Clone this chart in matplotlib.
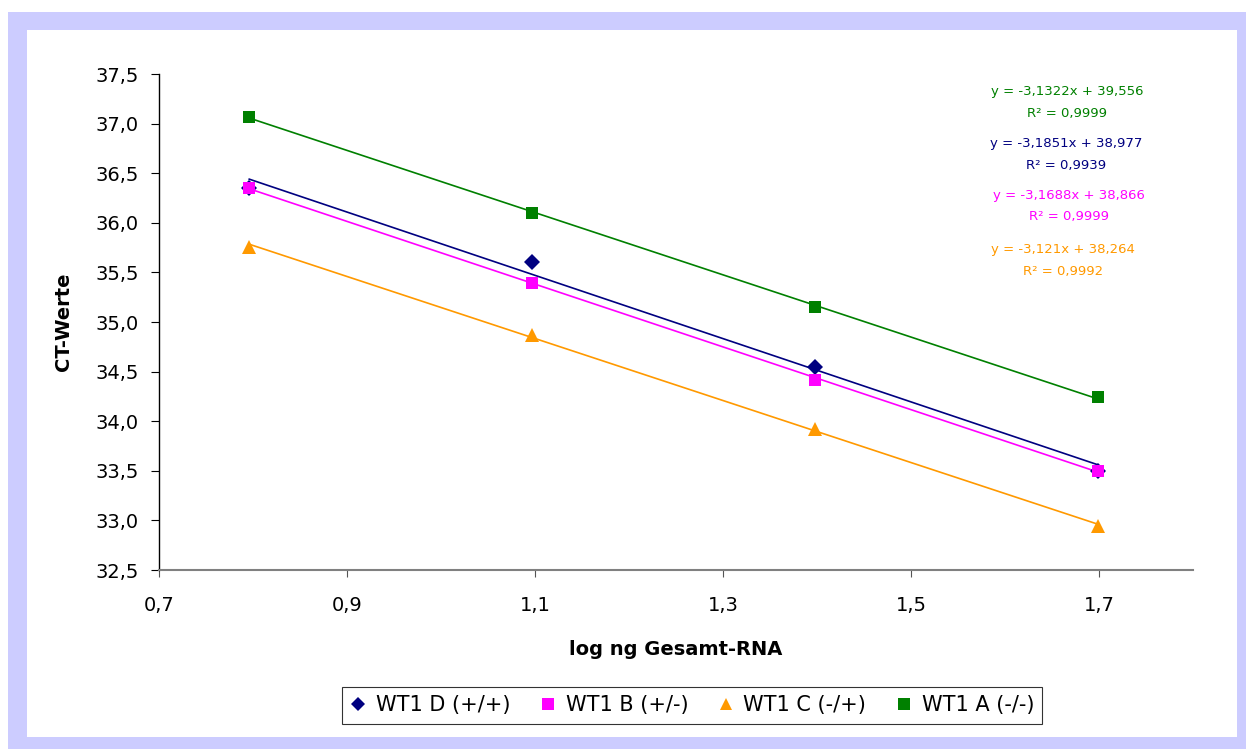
import numpy as np
import matplotlib
matplotlib.use("Agg")
import matplotlib.pyplot as plt
from matplotlib.patches import Rectangle
from matplotlib.ticker import FuncFormatter, MultipleLocator
from matplotlib.lines import Line2D

plt.rcParams['font.family'] = ['DejaVu Sans', 'Liberation Sans']

# Data
x_log = [0.796, 1.097, 1.398, 1.699]
series_names = ["WT1 D (+/+)", "WT1 B (+/-)", "WT1 C (-/+)", "WT1 A (-/-)"]
ct_D = [36.35, 35.60, 34.55, 33.50]
ct_B = [36.35, 35.39, 34.42, 33.50]
ct_C = [35.76, 34.87, 33.92, 32.94]
ct_A = [37.07, 36.10, 35.15, 34.24]
eq_texts = [
    ("y = -3,1851x + 38,977", "R² = 0,9939"),
    ("y = -3,1688x + 38,866", "R² = 0,9999"),
    ("y = -3,121x + 38,264", "R² = 0,9992"),
    ("y = -3,1322x + 39,556", "R² = 0,9999"),
]
x_ticks = [0.7, 0.9, 1.1, 1.3, 1.5, 1.7]

colors = ["#000080", "#FF00FF", "#FF9900", "#008000"]
markers = ["D", "s", "^", "s"]
msizes = [7.8, 9, 9.5, 8.5]
all_ct = [ct_D, ct_B, ct_C, ct_A]

W, H = 1246, 749
fig = plt.figure(figsize=(W / 100, H / 100), dpi=100)
fig.patch.set_facecolor("white")
# lavender frame
fig.patches.append(Rectangle((8 / W, 0), 1 - 8 / W, 1 - 12 / H, transform=fig.transFigure,
                             facecolor="#CCCCFF", edgecolor="none", zorder=-10))
fig.patches.append(Rectangle((27 / W, 12 / H), (1237 - 27) / W, (737 - 30) / H,
                             transform=fig.transFigure, facecolor="white", edgecolor="none", zorder=-9))

ax = fig.add_axes([159 / W, 1 - 570 / H, (1193 - 159) / W, (570 - 74) / H])
ax.set_facecolor("none")

xs = np.array(x_log)
order = [3, 0, 1, 2]
for i in order:
    ys = np.array(all_ct[i])
    k, d = np.polyfit(xs, ys, 1)
    ax.plot(xs, k * xs + d, color=colors[i], lw=1.2, zorder=2)
for i in [0, 1, 2, 3]:
    ax.plot(xs, all_ct[i], linestyle="none", marker=markers[i], color=colors[i],
            markersize=msizes[i], markeredgewidth=0, zorder=3, clip_on=False)

ax.set_xlim(0.7, 1.8)
ax.set_ylim(32.5, 37.5)
ax.set_xticks(x_ticks)
ax.yaxis.set_major_locator(MultipleLocator(0.5))
ax.xaxis.set_major_formatter(FuncFormatter(lambda v, p: f"{v:.1f}".replace(".", ",")))
ax.yaxis.set_major_formatter(FuncFormatter(lambda v, p: f"{v:.1f}".replace(".", ",")))

for s in ["top", "right"]:
    ax.spines[s].set_visible(False)
ax.spines["left"].set_color("black")
ax.spines["left"].set_linewidth(1.0)
ax.spines["bottom"].set_color("#808080")
ax.spines["bottom"].set_linewidth(1.5)
ax.tick_params(axis="y", direction="out", length=5.5, width=0.8, color="black", pad=9, labelsize=14)
ax.tick_params(axis="x", direction="out", length=5, width=0.8, color="#555555", pad=14, labelsize=14)

ax.set_xlabel("log ng Gesamt-RNA", fontsize=14, fontweight="bold", labelpad=18)
ax.set_ylabel("CT-Werte", fontsize=14, fontweight="bold", labelpad=16)

# equations
eq_pos = [(1066, 143, 166), (1069, 195, 217), (1063, 250, 272), (1067, 91, 114)]
for i, (xp, y1, y2) in enumerate(eq_pos):
    fig.text(xp / W, 1 - y1 / H, eq_texts[i][0], color=colors[i], fontsize=9.5,
             ha="center", va="center")
    fig.text(xp / W, 1 - y2 / H, eq_texts[i][1], color=colors[i], fontsize=9.5,
             ha="center", va="center")

handles = [Line2D([], [], linestyle="none", marker=markers[i], color=colors[i],
                  markersize=msizes[i] * 0.95, markeredgewidth=0) for i in range(4)]
leg = fig.legend(handles, series_names, loc="center", bbox_to_anchor=(692 / W, 1 - 705.5 / H),
                 ncol=4, fontsize=15, frameon=True, fancybox=False, handlelength=0.8,
                 handletextpad=0.45, columnspacing=1.4, borderpad=0.4, borderaxespad=0)
leg.get_frame().set_edgecolor("black")
leg.get_frame().set_linewidth(0.8)

fig.savefig("out.png", dpi=100)
